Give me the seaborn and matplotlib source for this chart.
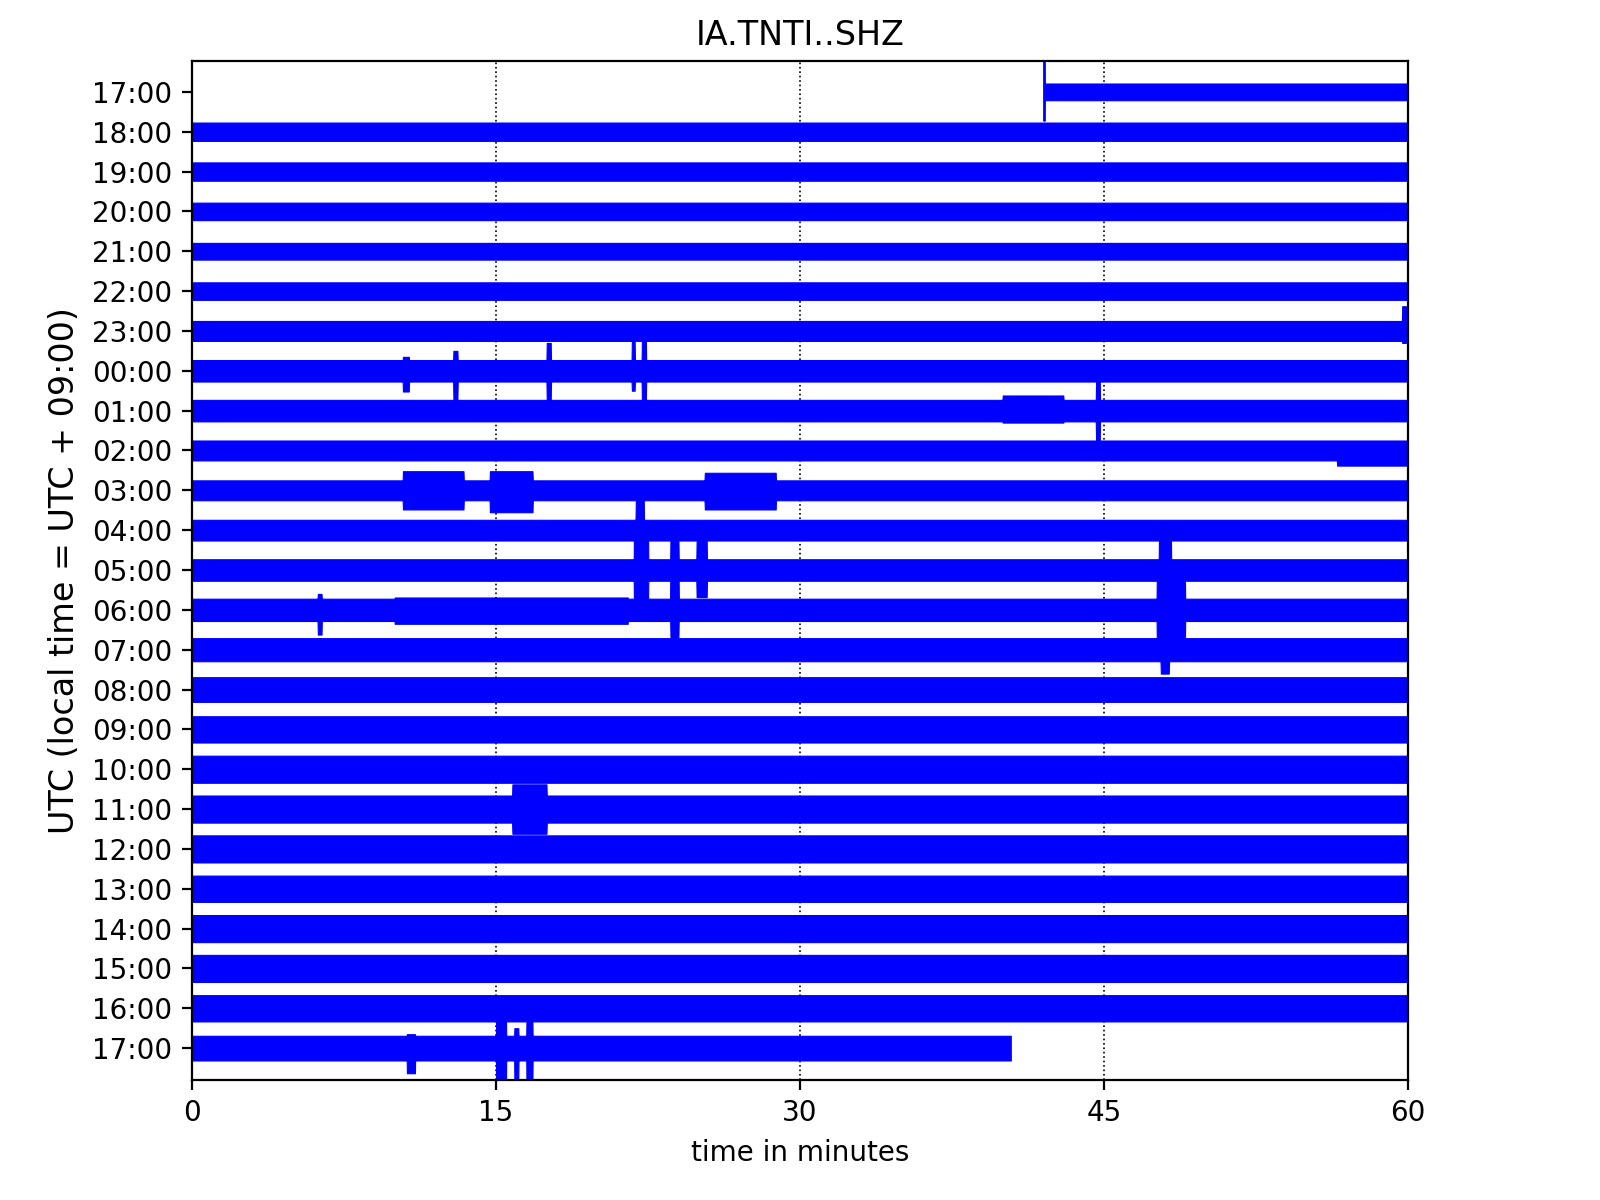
import numpy as np
import matplotlib
matplotlib.use("Agg")
import matplotlib.pyplot as plt
import seaborn as sns

# -------------------------------
# Data
# -------------------------------
station = "IA.TNTI..SHZ"
hour_labels = ["17:00", "18:00", "19:00", "20:00", "21:00", "22:00", "23:00",
               "00:00", "01:00", "02:00", "03:00", "04:00", "05:00", "06:00",
               "07:00", "08:00", "09:00", "10:00", "11:00", "12:00", "13:00",
               "14:00", "15:00", "16:00", "17:00"]

# typical half-width of each hourly trace (in units of row spacing)
row_amp = [0.21, 0.23, 0.23, 0.22, 0.21, 0.22, 0.25,
           0.27, 0.27, 0.25, 0.25, 0.26, 0.27, 0.28,
           0.29, 0.31, 0.33, 0.34, 0.34, 0.34, 0.33,
           0.34, 0.34, 0.33, 0.31]

# trace start / end (minutes) of every row
row_start = [42.0] + [0.0] * 24
row_end = [60.0] * 24 + [40.4]

# larger wiggles: row, from (min), to (min), amplitude up, amplitude down
ev_row = [0, 6, 7, 7, 7, 7, 7, 8, 8, 9, 10, 10, 10, 11, 12, 12, 13, 12, 12, 13, 14, 13, 13, 18, 24, 24, 24, 24]
ev_t0 = [41.95, 59.7, 10.4, 12.9, 17.5, 21.7, 22.2, 40.0, 44.6, 56.5, 10.4, 14.7, 25.3, 21.9, 21.8, 23.6, 23.6,
         24.9, 47.7, 47.6, 47.8, 6.2, 10.0, 15.8, 10.6, 15.0, 15.9, 16.5]
ev_t1 = [42.08, 59.9, 10.7, 13.1, 17.7, 21.85, 22.4, 43.0, 44.8, 60.0, 13.4, 16.8, 28.8, 22.3, 22.5, 24.0, 24.0,
         25.4, 48.3, 49.0, 48.2, 6.4, 21.5, 17.5, 11.0, 15.5, 16.1, 16.8]
ev_up = [0.85, 0.62, 0.35, 0.50, 0.70, 0.77, 0.77, 0.38, 0.73, 0.25, 0.48, 0.48, 0.44, 0.75, 1.00, 0.85, 0.60,
         0.73, 0.85, 1.00, 0.50, 0.40, 0.31, 0.62, 0.35, 0.70, 0.50, 0.70]
ev_down = [0.72, 0.30, 0.52, 0.73, 0.73, 0.50, 0.73, 0.30, 0.74, 0.38, 0.48, 0.55, 0.48, 0.50, 1.00, 1.00, 0.70,
           0.68, 0.60, 1.00, 0.60, 0.62, 0.35, 0.62, 0.63, 0.85, 0.85, 0.85]

# -------------------------------
# Style
# -------------------------------
sns.set_style("ticks")
plt.rcParams.update({
    "font.family": ["DejaVu Sans"],
    "text.color": "black",
    "axes.labelcolor": "black",
    "axes.edgecolor": "black",
    "axes.linewidth": 0.8,
    "xtick.color": "black",
    "ytick.color": "black",
    "xtick.major.size": 3.5,
    "ytick.major.size": 3.5,
    "xtick.major.width": 0.8,
    "ytick.major.width": 0.8,
    "xtick.labelsize": 10,
    "ytick.labelsize": 10,
})

fig, ax = plt.subplots(figsize=(8, 6), dpi=200)
fig.subplots_adjust(left=0.12, right=0.88, bottom=0.1, top=0.949)

# -------------------------------
# Draw each hour as a filled band
# -------------------------------
for i in range(len(hour_labels)):
    t = np.linspace(row_start[i], row_end[i], 4001)
    up = np.full_like(t, row_amp[i])
    down = np.full_like(t, row_amp[i])
    for r, a, b, u, d in zip(ev_row, ev_t0, ev_t1, ev_up, ev_down):
        if r == i:
            m = (t >= a) & (t <= b)
            up[m] = np.maximum(up[m], u)
            down[m] = np.maximum(down[m], d)
    ax.fill_between(t, -i - down, -i + up, color="blue", linewidth=0.4)

ax.set_xlim(0, 60)
ax.set_ylim(-24.8, 0.77)
ax.set_xticks([0, 15, 30, 45, 60])
ax.set_yticks([-i for i in range(len(hour_labels))])
ax.set_yticklabels(hour_labels)
for xg in [15, 30, 45]:
    ax.axvline(xg, color="black", linestyle=":", linewidth=0.6, zorder=0)

ax.set_title(station, fontsize=12, color="black")
ax.set_xlabel("time in minutes", fontsize=10)
ax.set_ylabel("UTC (local time = UTC + 09:00)", fontsize=12)

fig.savefig("out.png", dpi=200)
